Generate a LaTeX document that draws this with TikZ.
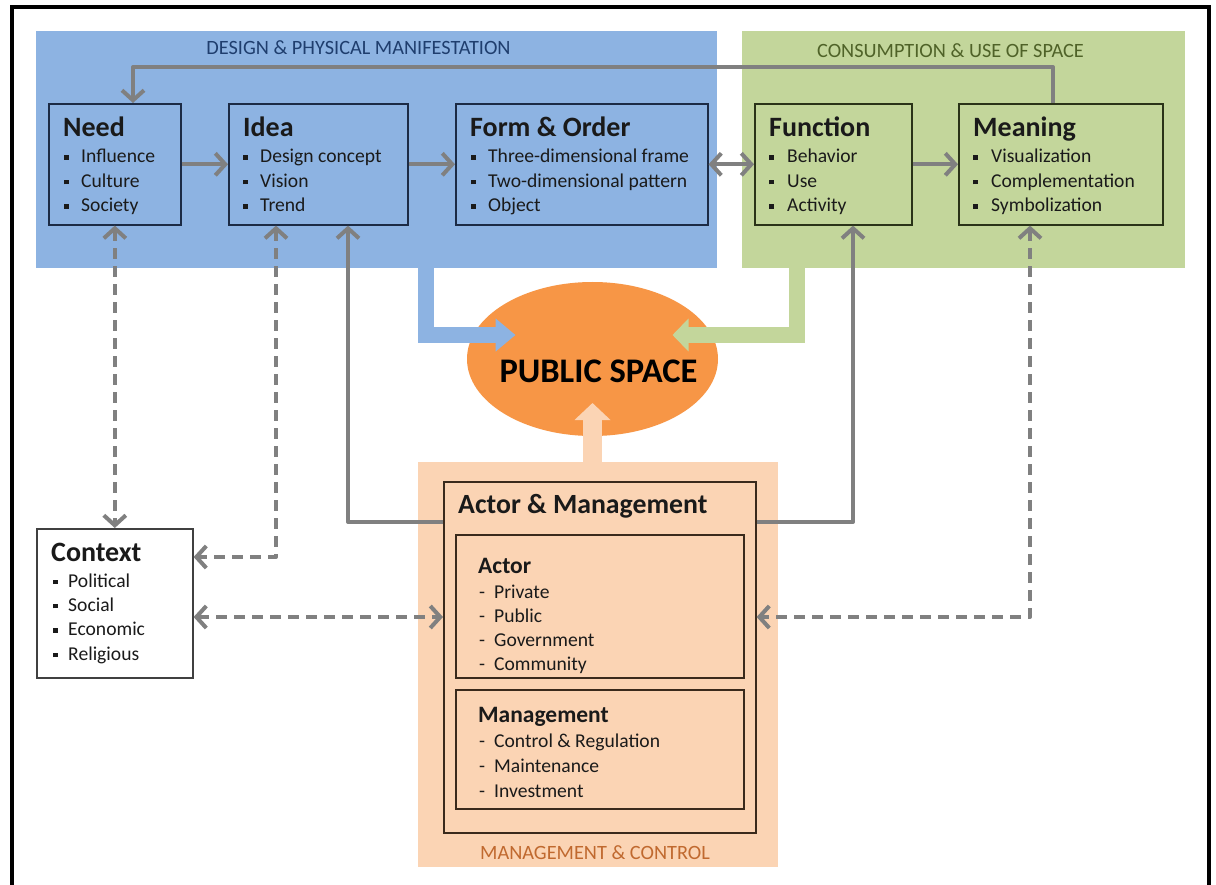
\documentclass[tikz,border=0pt]{standalone}
\usepackage{fontspec}
\setmainfont{Carlito}
\usetikzlibrary{arrows.meta,calc,shapes.geometric}

\definecolor{designblue}{HTML}{8DB3E2}
\definecolor{usegreen}{HTML}{C3D69B}
\definecolor{ctrlpeach}{HTML}{FBD4B4}
\definecolor{spaceorange}{HTML}{F79646}
\definecolor{flowgray}{HTML}{808080}
\definecolor{navyline}{HTML}{1C2B45}
\definecolor{oliveline}{HTML}{2A3318}
\definecolor{brownline}{HTML}{3A2A1C}
\definecolor{designlabel}{HTML}{1F3E6E}
\definecolor{uselabel}{HTML}{4F6228}
\definecolor{ctrllabel}{HTML}{C0692F}
\definecolor{inktext}{HTML}{1A1A1A}

\newcommand{\sq}{\makebox[17pt][l]{\rule[3pt]{4.5pt}{4.5pt}}}
\newcommand{\dsh}{\makebox[15pt][l]{-}}

\begin{document}
\begin{tikzpicture}[x=1pt,y=-1pt,
  zone/.style={fill=#1, draw=none, inner sep=0pt, anchor=north west},
  card/.style={draw=#1, line width=1.6pt, inner sep=0pt, anchor=north west},
  zonelabel/.style={text=#1, anchor=base, inner sep=0pt, font=\fontsize{20.3}{24}\selectfont},
  cardtitle/.style={text=inktext, anchor=base west, inner sep=0pt, font=\bfseries\fontsize{28}{32}\selectfont},
  subtitle/.style={text=inktext, anchor=base west, inner sep=0pt, font=\bfseries\fontsize{23.5}{28}\selectfont},
  itemtext/.style={text=inktext, anchor=base west, inner sep=0pt, font=\fontsize{19.6}{23}\selectfont},
  flow/.style={draw=flowgray, line width=4pt, line join=round,
    -{Straight Barb[length=10pt,width=22pt]}},
  twoway/.style={draw=flowgray, line width=4pt, line join=round,
    {Straight Barb[length=10pt,width=22pt]}-{Straight Barb[length=10pt,width=22pt]}},
  hint/.style={dash pattern=on 11pt off 7pt},
  bigarrow/.style={draw=#1, line width=17pt}
]
\useasboundingbox (0,0) rectangle (1216,885);
\fill[white] (0,0) rectangle (1216,885);

% outer frame (open at the bottom edge of the page)
\draw[line width=4pt, black] (12,885) -- (12,7.5) -- (1209,7.5) -- (1209,885);

% background zones
\node[zone=designblue, minimum width=681pt, minimum height=237pt] (design) at (36,31) {};
\node[zone=usegreen, minimum width=443pt, minimum height=237pt] (consumption) at (742,31) {};
\node[zone=ctrlpeach, minimum width=360pt, minimum height=405pt] (control) at (418,462) {};

\node[zonelabel=designlabel] (designlbl) at (358.5,55) {DESIGN \& PHYSICAL MANIFESTATION};
\node[zonelabel=uselabel] (uselbl) at (950.5,58) {CONSUMPTION \& USE OF SPACE};
\node[zonelabel=ctrllabel] (ctrllbl) at (595,859) {MANAGEMENT \& CONTROL};

% public space
\node[ellipse, fill=spaceorange, draw=none, minimum width=251pt, minimum height=154pt, inner sep=0pt] (public) at (592.5,359) {};
\node[anchor=base, inner sep=0pt, text=black, font=\bfseries\fontsize{34.5}{40}\selectfont] (publbl) at (598.5,383) {PUBLIC SPACE};

% broad arrows feeding the public space
\coordinate (blueBend) at (425.5,335);
\coordinate (greenBend) at (796.5,335);
\draw[bigarrow=designblue, line width=16pt, -{Triangle[length=20pt,width=32pt]}]
  ($(design.south -| blueBend)+(0,-6)$) -- (blueBend) -- ($(public.center)+(-77,-24)$);
\draw[bigarrow=usegreen, line width=16pt, -{Triangle[length=16pt,width=32pt]}]
  ($(consumption.south -| greenBend)+(0,-6)$) -- (greenBend) -- ($(public.center)+(80,-24)$);
\draw[bigarrow=ctrlpeach, line width=19pt, -{Triangle[length=17pt,width=35pt]}]
  ($(control.north -| public.center)+(0,6)$) -- ($(public.center)+(0,44)$);

% cards of the design zone
\node[card=navyline, minimum width=132pt, minimum height=121pt] (need) at (48,103) {};
\node[card=navyline, minimum width=179pt, minimum height=121pt] (idea) at (228,103) {};
\node[card=navyline, minimum width=252pt, minimum height=121pt] (form) at (455,103) {};
% cards of the consumption zone
\node[card=oliveline, minimum width=157pt, minimum height=121pt] (function) at (754,103) {};
\node[card=oliveline, minimum width=204pt, minimum height=121pt] (meaning) at (958,103) {};
% context card
\node[card=black!75, minimum width=156pt, minimum height=149pt] (context) at (36,528) {};
% actor & management cards
\node[card=brownline, minimum width=312pt, minimum height=351pt] (am) at (443,481) {};
\node[card=brownline, minimum width=288pt, minimum height=143pt] (actor) at (455,534) {};
\node[card=brownline, minimum width=288pt, minimum height=119pt] (mgmt) at (455,689) {};

% card texts
\node[cardtitle] at (63,137) {Need};
\foreach \t [count=\i from 0] in {Influence,Culture,Society}
  \node[itemtext] at (64,163+24.5*\i) {\sq\t};

\node[cardtitle] at (243,137) {Idea};
\foreach \t [count=\i from 0] in {Design concept,Vision,Trend}
  \node[itemtext] at (243,163+24.5*\i) {\sq\t};

\node[cardtitle] at (470,137) {Form \& Order};
\foreach \t [count=\i from 0] in {Three-dimensional frame,Two-dimensional pattern,Object}
  \node[itemtext] at (471,163+24.5*\i) {\sq\t};

\node[cardtitle] at (769,137) {Function};
\foreach \t [count=\i from 0] in {Behavior,Use,Activity}
  \node[itemtext] at (769,163+24.5*\i) {\makebox[18pt][l]{\rule[3pt]{4.5pt}{4.5pt}}\t};

\node[cardtitle] at (973,137) {Meaning};
\foreach \t [count=\i from 0] in {Visualization,Complementation,Symbolization}
  \node[itemtext] at (973,163+24.5*\i) {\makebox[18pt][l]{\rule[3pt]{4.5pt}{4.5pt}}\t};

\node[cardtitle] at (51,561) {Context};
\foreach \t [count=\i from 0] in {Political,Social,Economic,Religious}
  \node[itemtext] at (53,587+24.4*\i) {\makebox[15pt][l]{\rule[3pt]{4.5pt}{4.5pt}}\t};

\node[cardtitle, font=\bfseries\fontsize{27.8}{32}\selectfont] at (458,513) {Actor \& Management};
\node[subtitle] at (478,573) {Actor};
\foreach \t [count=\i from 0] in {Private,Public,Government,Community}
  \node[itemtext] at (479,598+24*\i) {\dsh\t};
\node[subtitle] at (478,722) {Management};
\foreach \t [count=\i from 0] in {Control \& Regulation,Maintenance,Investment}
  \node[itemtext] at (479,747+25*\i) {\dsh\t};

% sequence along the top row
\draw[flow] (need) -- (idea);
\draw[flow] (idea) -- (form);
\draw[twoway] (form) -- (function);
\draw[flow] (function) -- (meaning);

% feedback loop from meaning back to need
\coordinate (loopR) at (1053,67);
\coordinate (loopL) at (133,67);
\draw[flow] (meaning.north -| loopR) -- (loopR) -- (loopL) -- (loopL |- need.north);

% actor & management drives idea and function
\coordinate (ideaLeg) at (348,522);
\coordinate (funcLeg) at (853,522);
\draw[flow] (am.west |- ideaLeg) -- (ideaLeg) -- (ideaLeg |- idea.south);
\draw[flow] (am.east |- funcLeg) -- (funcLeg) -- (funcLeg |- function.south);

% context relations (dashed, two-way)
\coordinate (ideaHint) at (276,557);
\coordinate (midHint) at (300,617);
\coordinate (meanHint) at (1030,617);
\draw[twoway, hint] (need) -- (context);
\draw[twoway, hint] (ideaHint |- idea.south) -- (ideaHint) -- (context.east |- ideaHint);
\draw[twoway, hint] (context.east |- midHint) -- (am.west |- midHint);
\draw[twoway, hint] (meanHint |- meaning.south) -- (meanHint) -- (am.east |- meanHint);
\end{tikzpicture}
\end{document}
